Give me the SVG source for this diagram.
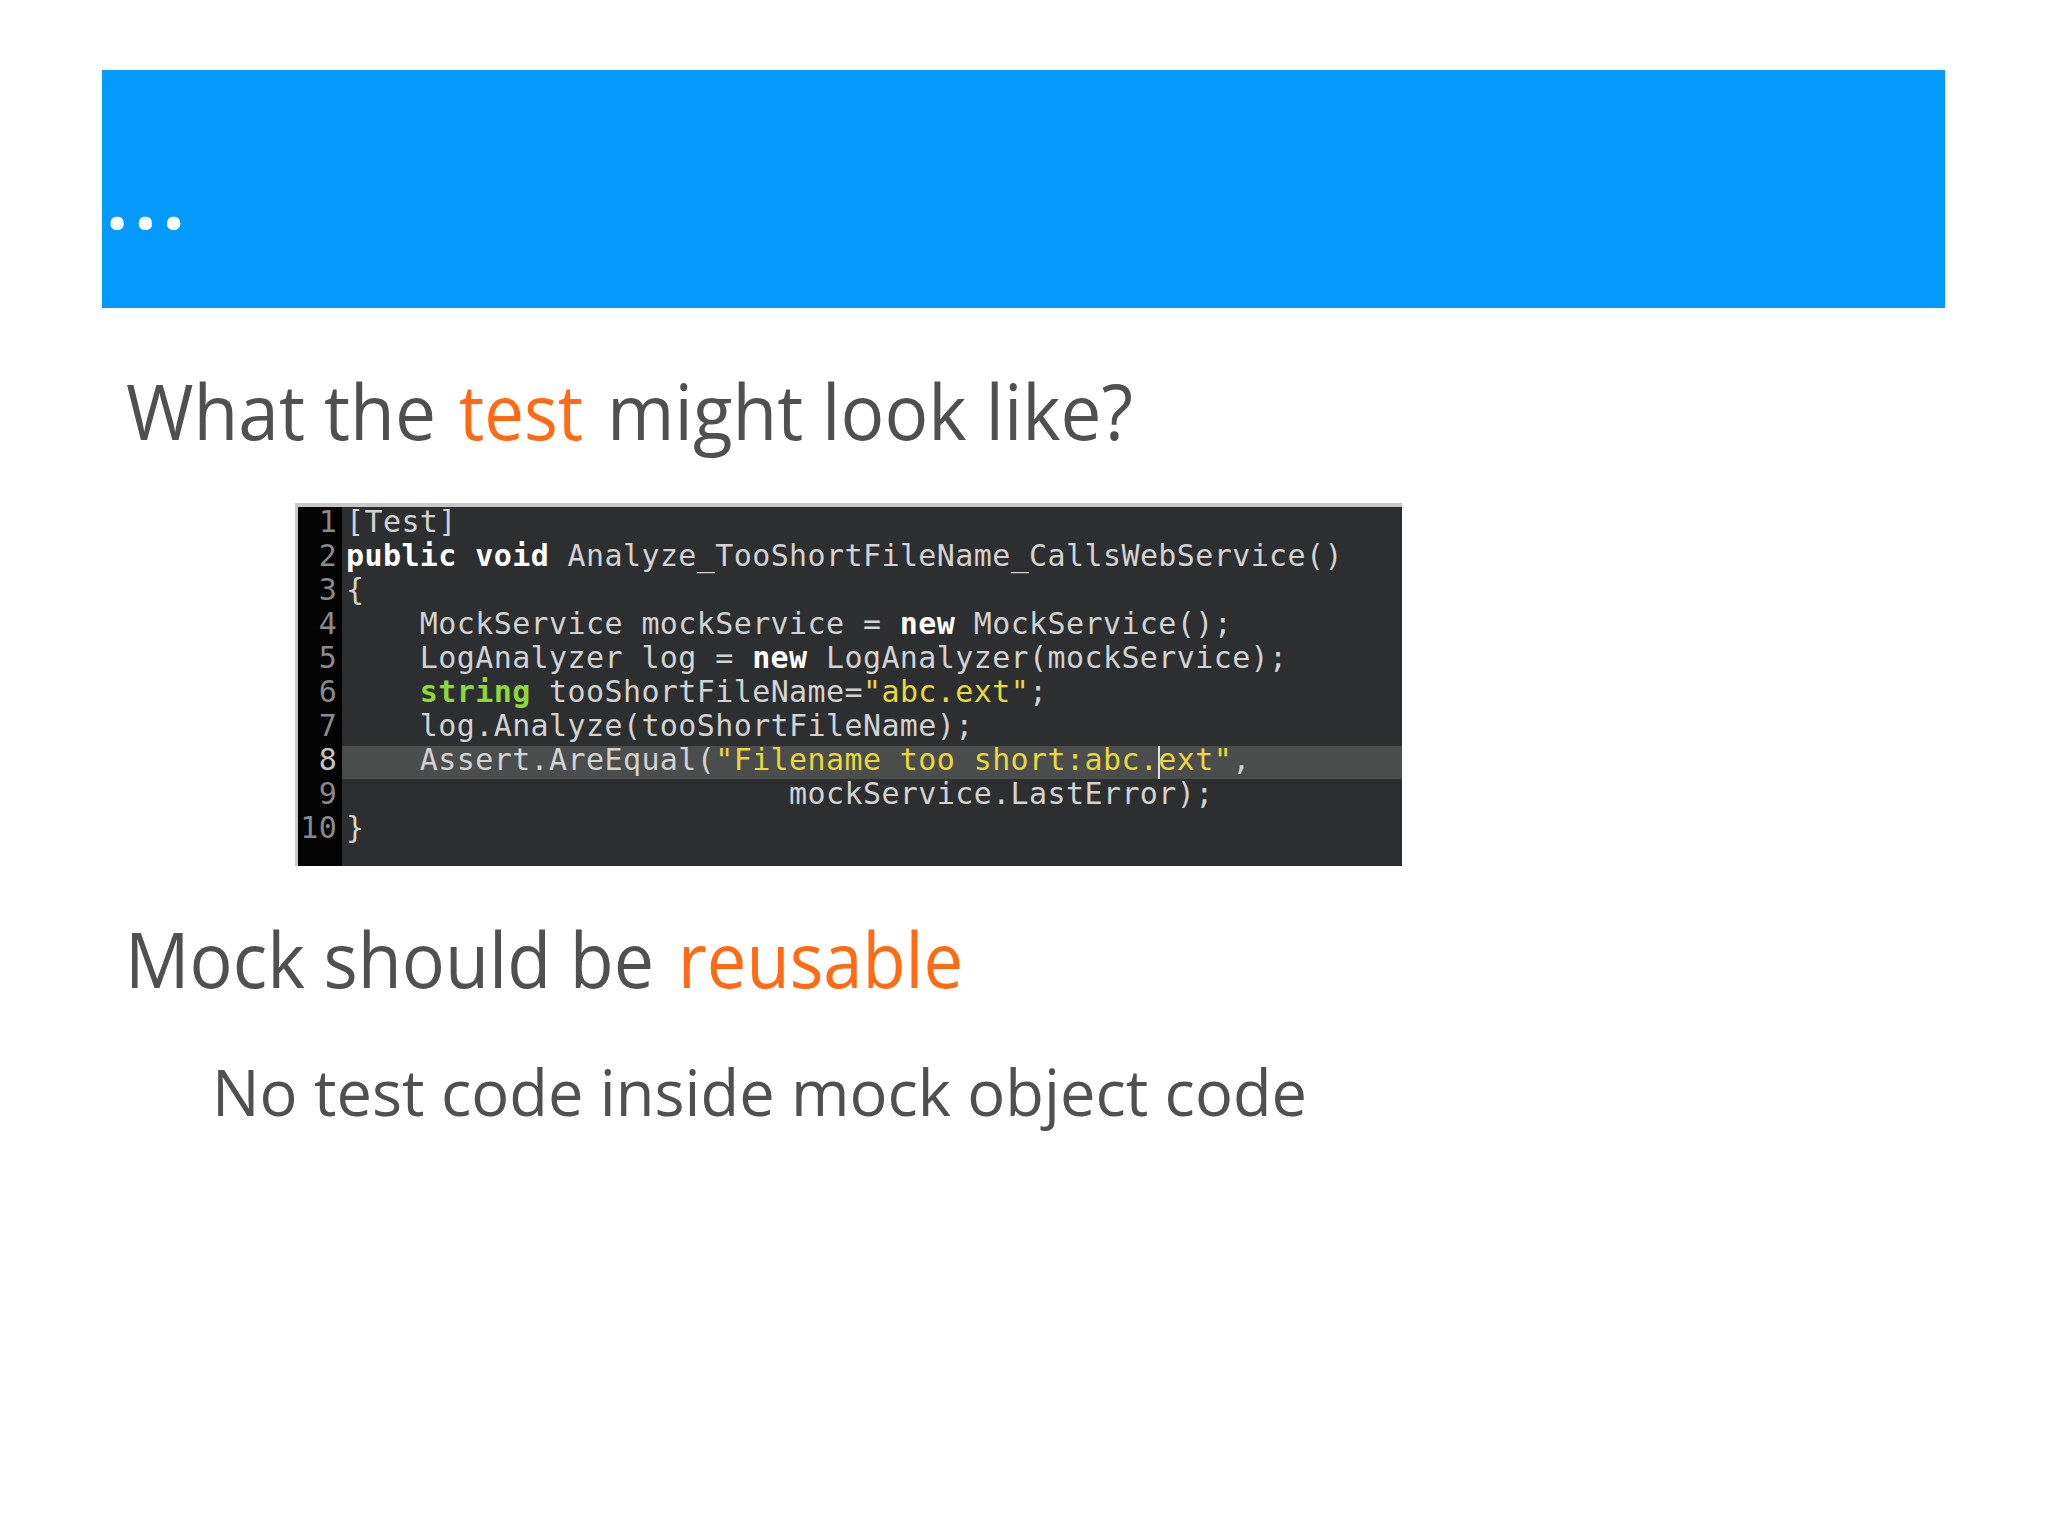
<svg xmlns="http://www.w3.org/2000/svg" width="2048" height="1535" viewBox="0 0 2048 1535">
<style>
.t{font-family:"Open Sans","Liberation Sans",sans-serif;fill:#505050}
.o{fill:#ff6a13}
.c{font-family:"DejaVu Sans Mono","Liberation Mono",monospace;font-size:30px;letter-spacing:0.4px;fill:#d2d2d2;white-space:pre}
.n{font-family:"DejaVu Sans Mono","Liberation Mono",monospace;font-size:30px;letter-spacing:0.3px;fill:#8a8a8a;text-anchor:end}
.k{font-weight:bold;fill:#ffffff}
.g{font-weight:bold;fill:#8fd63a}
.y{fill:#e8d83a}
</style>
<rect x="0" y="0" width="2048" height="1535" fill="#ffffff"/>
<g id="header">
<rect x="102" y="70" width="1843" height="238" fill="#0399fd"/>
<text x="106" y="229" font-family="Open Sans, sans-serif" font-weight="bold" font-size="78" fill="#ffffff" letter-spacing="6">...</text>
</g>
<g id="title1">
<text class="t" x="126" y="440" font-size="76" textLength="310" lengthAdjust="spacingAndGlyphs">What the</text>
<text class="t o" x="459" y="440" font-size="76" textLength="124" lengthAdjust="spacingAndGlyphs">test</text>
<text class="t" x="607" y="440" font-size="76" textLength="526" lengthAdjust="spacingAndGlyphs">might look like?</text>
</g>
<g id="code">
<rect x="295" y="503" width="1107" height="363" fill="#c8c8c8"/>
<rect x="298" y="507" width="1104" height="359" fill="#2c2e2f"/>
<rect x="298" y="507" width="44" height="359" fill="#030303"/>
<rect x="342" y="746" width="1060" height="33" fill="#4b4d4d"/>
<rect x="1158" y="746" width="2" height="33" fill="#e0e0e0"/>
<text class="n" x="337" y="532">1</text>
<text class="n" x="337" y="566">2</text>
<text class="n" x="337" y="600">3</text>
<text class="n" x="337" y="634">4</text>
<text class="n" x="337" y="668">5</text>
<text class="n" x="337" y="702">6</text>
<text class="n" x="337" y="736">7</text>
<text class="n" x="337" y="770" style="fill:#c4c4c4">8</text>
<text class="n" x="337" y="804">9</text>
<text class="n" x="337" y="838">10</text>
<text class="c" x="346" y="532" xml:space="preserve">[Test]</text>
<text class="c" x="346" y="566" xml:space="preserve"><tspan class="k">public</tspan> <tspan class="k">void</tspan> Analyze_TooShortFileName_CallsWebService()</text>
<text class="c" x="346" y="600" xml:space="preserve">{</text>
<text class="c" x="346" y="634" xml:space="preserve">    MockService mockService = <tspan class="k">new</tspan> MockService();</text>
<text class="c" x="346" y="668" xml:space="preserve">    LogAnalyzer log = <tspan class="k">new</tspan> LogAnalyzer(mockService);</text>
<text class="c" x="346" y="702" xml:space="preserve">    <tspan class="g">string</tspan> tooShortFileName=<tspan class="y">"abc.ext"</tspan>;</text>
<text class="c" x="346" y="736" xml:space="preserve">    log.Analyze(tooShortFileName);</text>
<text class="c" x="346" y="770" xml:space="preserve">    Assert.AreEqual(<tspan class="y">"Filename too short:abc.ext"</tspan>,</text>
<text class="c" x="346" y="804" xml:space="preserve">                        mockService.LastError);</text>
<text class="c" x="346" y="838" xml:space="preserve">}</text>
</g>
<g id="title2">
<text class="t" x="125" y="988" font-size="76" textLength="529" lengthAdjust="spacingAndGlyphs">Mock should be</text>
<text class="t o" x="678" y="988" font-size="76" textLength="285" lengthAdjust="spacingAndGlyphs">reusable</text>
</g>
<g id="bullet">
<text class="t" x="212" y="1116" font-size="64" textLength="1095" lengthAdjust="spacingAndGlyphs">No test code inside mock object code</text>
</g>
</svg>
